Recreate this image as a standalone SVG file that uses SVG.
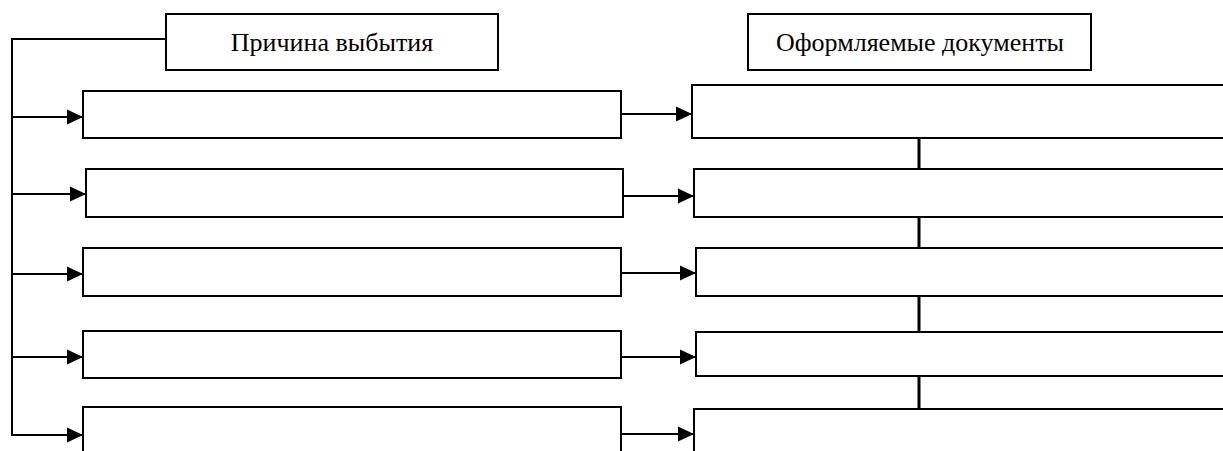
<svg xmlns="http://www.w3.org/2000/svg" width="1223" height="451" viewBox="0 0 1223 451">
<style>
.box{fill:#fff;stroke:#000;stroke-width:2}
.ln{fill:none;stroke:#000;stroke-width:2}
.vln{fill:none;stroke:#000;stroke-width:3}
.lbl{font-family:'Liberation Serif','Times New Roman','DejaVu Serif',serif;font-size:26px;fill:#000;text-anchor:middle}
</style>
<defs>
<marker id="ah" markerWidth="16" markerHeight="16" refX="16" refY="8" orient="auto" markerUnits="userSpaceOnUse">
<path d="M0,0.5 L16,8 L0,15.5 Z" fill="#000"/>
</marker>
</defs>
<rect x="0" y="0" width="1223" height="451" fill="#fff"/>
<g id="header-cause"><rect class="box" x="166" y="14" width="332" height="56"/><text class="lbl" font-family="Liberation Serif, serif" x="332" y="51">Причина выбытия</text></g>
<g id="header-docs"><rect class="box" x="748" y="14" width="343" height="56"/><text class="lbl" font-family="Liberation Serif, serif" x="920" y="51">Оформляемые документы</text></g>
<g id="cause-1"><rect class="box" x="83" y="91" width="538" height="47"/></g>
<g id="cause-2"><rect class="box" x="86" y="169" width="537" height="48"/></g>
<g id="cause-3"><rect class="box" x="83" y="248" width="538" height="48"/></g>
<g id="cause-4"><rect class="box" x="83" y="331" width="538" height="47"/></g>
<g id="cause-5"><rect class="box" x="83" y="407" width="538" height="60"/></g>
<g id="doc-1"><rect class="box" x="692" y="85" width="560" height="53"/></g>
<g id="doc-2"><rect class="box" x="694" y="169" width="560" height="48"/></g>
<g id="doc-3"><rect class="box" x="696" y="248" width="560" height="48"/></g>
<g id="doc-4"><rect class="box" x="696" y="332" width="560" height="44"/></g>
<g id="doc-5"><rect class="box" x="694" y="409" width="560" height="60"/></g>
<g id="connectors">
<path class="ln" d="M166,39 H12 V435"/>
<line class="ln" x1="12" y1="117" x2="83" y2="117" marker-end="url(#ah)"/>
<line class="ln" x1="12" y1="194" x2="86" y2="194" marker-end="url(#ah)"/>
<line class="ln" x1="12" y1="274" x2="83" y2="274" marker-end="url(#ah)"/>
<line class="ln" x1="12" y1="357" x2="83" y2="357" marker-end="url(#ah)"/>
<line class="ln" x1="11" y1="435" x2="83" y2="435" marker-end="url(#ah)"/>
<line class="ln" x1="621" y1="114" x2="692" y2="114" marker-end="url(#ah)"/>
<line class="ln" x1="623" y1="196" x2="694" y2="196" marker-end="url(#ah)"/>
<line class="ln" x1="621" y1="273" x2="696" y2="273" marker-end="url(#ah)"/>
<line class="ln" x1="621" y1="357" x2="696" y2="357" marker-end="url(#ah)"/>
<line class="ln" x1="621" y1="434" x2="694" y2="434" marker-end="url(#ah)"/>
<line class="vln" x1="919" y1="138" x2="919" y2="169"/>
<line class="vln" x1="919" y1="217" x2="919" y2="248"/>
<line class="vln" x1="919" y1="296" x2="919" y2="332"/>
<line class="vln" x1="919" y1="376" x2="919" y2="409"/>
</g>
</svg>
